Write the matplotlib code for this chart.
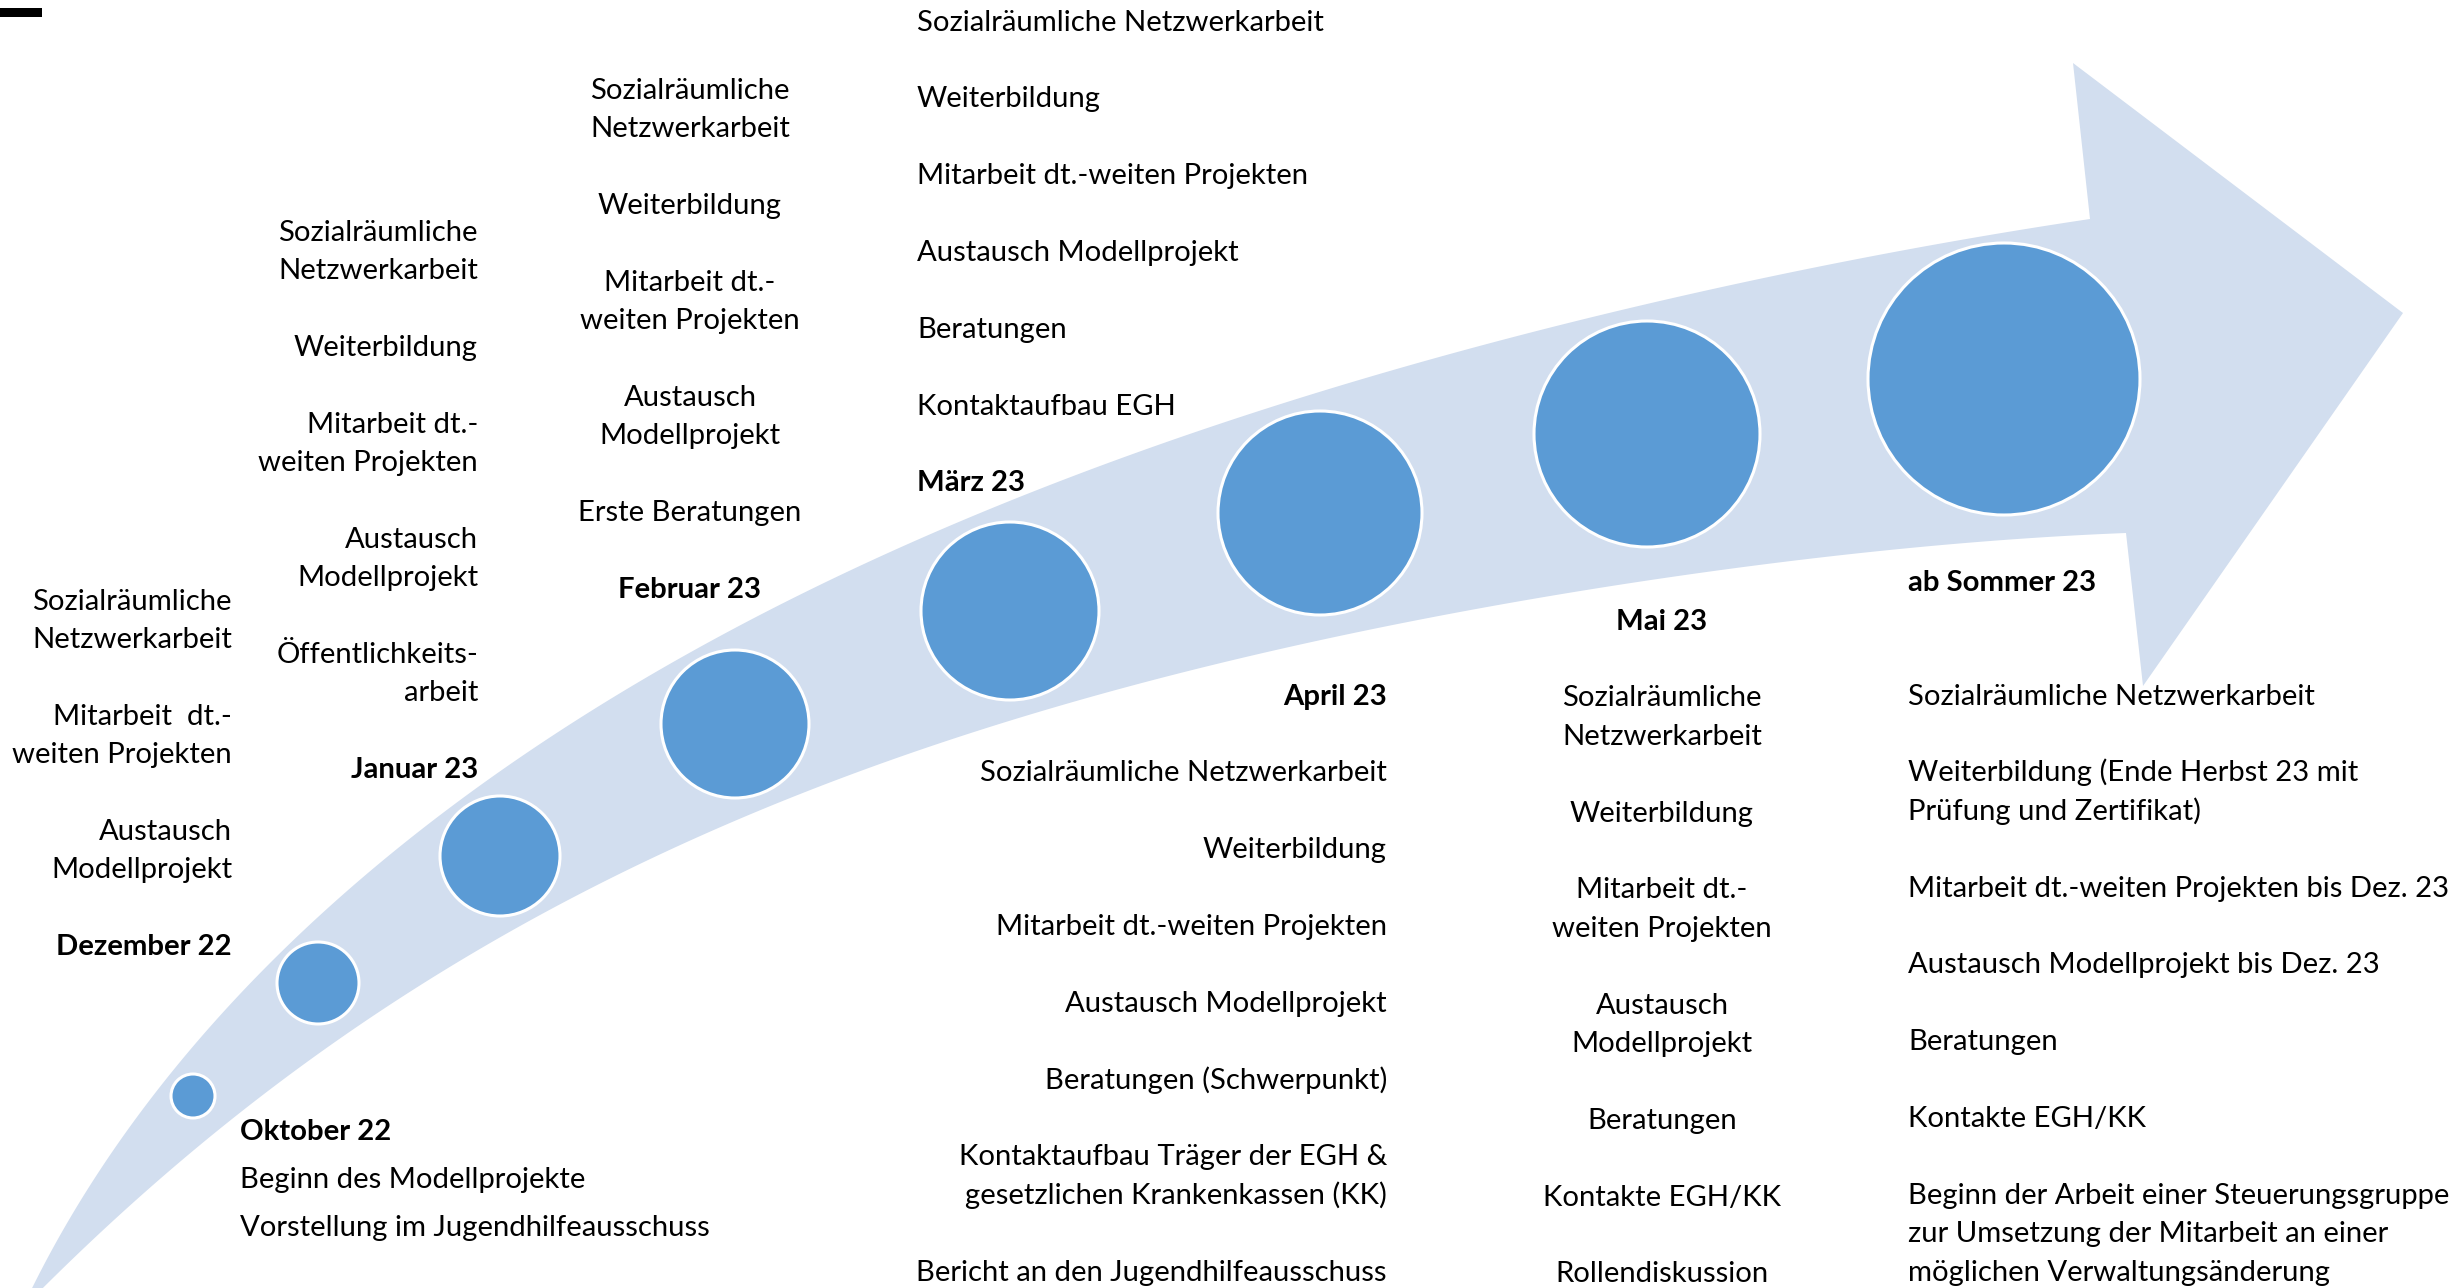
import numpy as np
import matplotlib
matplotlib.use("Agg")
import matplotlib.pyplot as plt
from matplotlib.patches import Circle, Polygon, Rectangle

W, H = 2458, 1288
FONT = "Lato"

# timeline data
oktober_head = "Oktober 22"
oktober = ["Beginn des Modellprojekte", "Vorstellung im Jugendhilfeausschuss"]

dezember_head = "Dezember 22"
dezember = ["Sozialräumliche\nNetzwerkarbeit", "Mitarbeit  dt.-\nweiten Projekten",
            "Austausch\nModellprojekt"]

januar_head = "Januar 23"
januar = ["Sozialräumliche\nNetzwerkarbeit", "Weiterbildung", "Mitarbeit dt.-\nweiten Projekten",
          "Austausch\nModellprojekt", "Öffentlichkeits-\narbeit"]

februar_head = "Februar 23"
februar = ["Sozialräumliche\nNetzwerkarbeit", "Weiterbildung", "Mitarbeit dt.-\nweiten Projekten",
           "Austausch\nModellprojekt", "Erste Beratungen"]

maerz_head = "März 23"
maerz = ["Sozialräumliche Netzwerkarbeit", "Weiterbildung", "Mitarbeit dt.-weiten Projekten",
         "Austausch Modellprojekt", "Beratungen", "Kontaktaufbau EGH"]

april_head = "April 23"
april = ["Sozialräumliche Netzwerkarbeit", "Weiterbildung", "Mitarbeit dt.-weiten Projekten",
         "Austausch Modellprojekt", "Beratungen (Schwerpunkt)",
         "Kontaktaufbau Träger der EGH &\ngesetzlichen Krankenkassen (KK)",
         "Bericht an den Jugendhilfeausschuss"]

mai_head = "Mai 23"
mai = ["Sozialräumliche\nNetzwerkarbeit", "Weiterbildung", "Mitarbeit dt.-\nweiten Projekten",
       "Austausch\nModellprojekt", "Beratungen", "Kontakte EGH/KK", "Rollendiskussion"]

sommer_head = "ab Sommer 23"
sommer = ["Sozialräumliche Netzwerkarbeit",
          "Weiterbildung (Ende Herbst 23 mit\nPrüfung und Zertifikat)",
          "Mitarbeit dt.-weiten Projekten bis Dez. 23",
          "Austausch Modellprojekt bis Dez. 23", "Beratungen", "Kontakte EGH/KK",
          "Beginn der Arbeit einer Steuerungsgruppe\nzur Umsetzung der Mitarbeit an einer\nmöglichen Verwaltungsänderung"]

# bubble radii (px) grow along the timeline
bubble_r = [22, 41, 60, 74, 89, 102, 113, 136]
# layout: bubble centres along the arrow
bubble_xy = [(193, 1096), (318, 983), (500, 856), (735, 724),
             (1010, 611), (1320, 513), (1647, 434), (2004, 379)]

# arrow outline (traced)
upper_edge = [(22, 1309), (83, 1198), (157, 1088), (250, 988), (500, 767), (600, 703),
              (733, 630), (833, 583), (1000, 507), (1200, 427), (1367, 377), (1533, 332),
              (1700, 292), (1833, 265), (2000, 233), (2090, 219)]
head = [(2073, 63), (2403, 313), (2143, 686)]
lower_edge = [(2126, 533), (2000, 540), (1700, 575), (1533, 597), (1367, 630), (1200, 667),
              (1000, 723), (833, 787), (667, 850), (500, 933), (300, 1068), (200, 1145),
              (150, 1188), (100, 1235), (45, 1288), (22, 1309)]


def smooth(pts, deg=5, n=300):
    # least-squares polynomial in chord length, ends pinned by heavy weights
    p = np.array(pts, float)
    s = np.concatenate([[0], np.cumsum(np.hypot(*np.diff(p, axis=0).T))])
    s /= s[-1]
    wts = np.ones(len(p))
    wts[[0, -1]] = 50
    fx = np.polyfit(s, p[:, 0], deg, w=wts)
    fy = np.polyfit(s, p[:, 1], deg, w=wts)
    t = np.linspace(0, 1, n)
    return np.column_stack([np.polyval(fx, t), np.polyval(fy, t)])


fig = plt.figure(figsize=(W / 100, H / 100), dpi=100)
ax = fig.add_axes([0, 0, 1, 1])
ax.set_xlim(0, W)
ax.set_ylim(H, 0)
ax.axis("off")

outline = np.vstack([smooth(upper_edge), np.array(head), smooth(lower_edge)])
ax.add_patch(Polygon(outline, closed=True, facecolor="#D2DEEF", edgecolor="none"))

for (cx, cy), r in zip(bubble_xy, bubble_r):
    ax.add_patch(Circle((cx, cy), r, facecolor="#5B9BD5", edgecolor="white", lw=2.2))

ax.add_patch(Rectangle((0, 8), 42, 9, facecolor="black", edgecolor="none"))

# font size so that the text widths match the original
probe = ax.text(0, 0, "Sozialräumliche Netzwerkarbeit", fontsize=20, family=FONT)
w = probe.get_window_extent(fig.canvas.get_renderer()).width
probe.remove()
fs = 20 * 408 / w
half_cap = 0.36 * fs / 72 * 100
LINE = 38.4


def put(x, y, s, ha, bold=False):
    ax.text(x, y + half_cap, s, ha=ha, va="baseline", fontsize=fs, family=FONT,
            fontweight="bold" if bold else "normal", color="black")


def column(x, y, items, ha, bold_idx=None):
    for i, item in enumerate(items):
        for ln in item.split("\n"):
            put(x, y, ln, ha, i == bold_idx)
            y += LINE
        y += LINE


# Oktober
put(240, 1129, oktober_head, "left", True)
for i, s in enumerate(oktober):
    put(240, 1177 + i * 48.6, s, "left")

column(232, 599, dezember + [dezember_head], "right", len(dezember))
column(478, 230, januar + [januar_head], "right", len(januar))
column(690, 88, februar + [februar_head], "center", len(februar))
column(917, 20, maerz + [maerz_head], "left", len(maerz))
column(1387, 694, [april_head] + april, "right", 0)
column(1662, 619, [mai_head] + mai, "center", 0)
put(1908, 580, sommer_head, "left", True)
column(1908, 694, sommer, "left")

fig.savefig("out.png", dpi=100)
